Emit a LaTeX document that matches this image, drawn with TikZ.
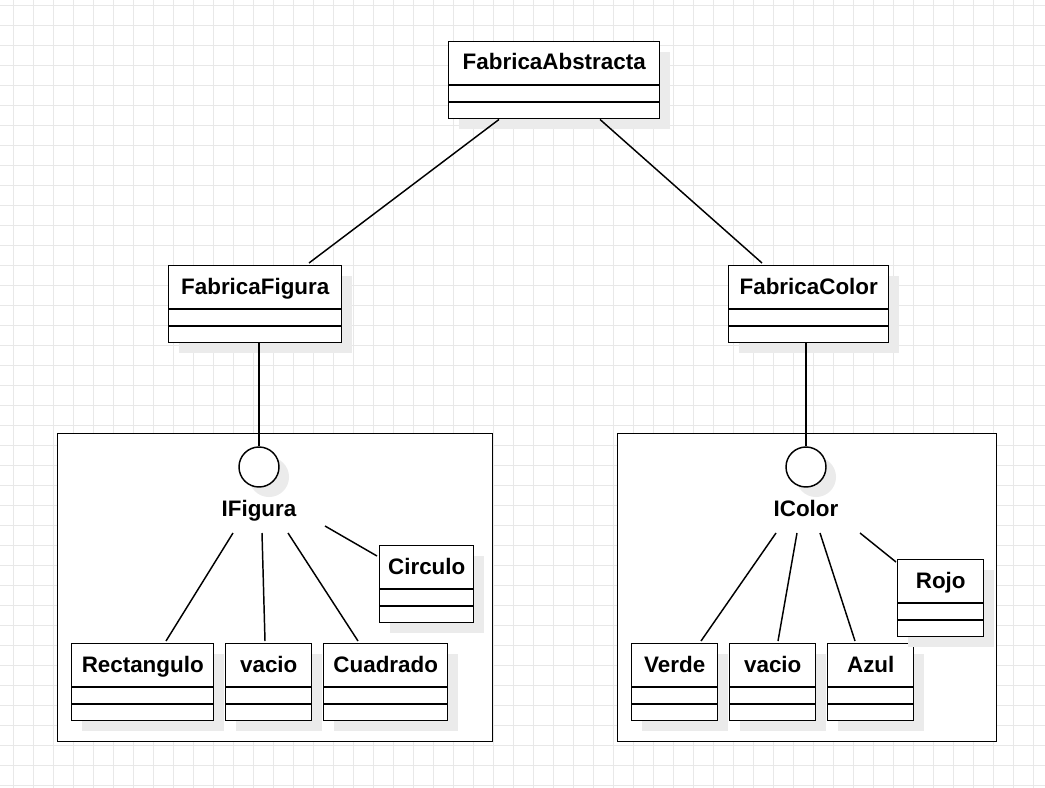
\documentclass[tikz,border=0pt]{standalone}
\usepackage{fontspec}
\setmainfont{Liberation Sans}
\usetikzlibrary{calc,shadows}
\tikzset{
  ln/.style={line width=1.1pt, black},
  gridline/.style={line width=0.5pt, color=black!9},
  shad/.style={drop shadow={shadow xshift=7.5pt, shadow yshift=-7.5pt, fill=black!8, opacity=1}},
  cls/.style={draw, ln, fill=white, rectangle, inner sep=0pt, minimum height=57.75pt, shad},
  pkg/.style={draw, ln, fill=white, rectangle, inner sep=0pt},
  iface/.style={draw, ln, fill=white, circle, inner sep=0pt, minimum size=30pt, shad},
  ttl/.style={font=\fontsize{16.8}{20}\selectfont\bfseries, inner sep=0pt, text=black, anchor=base},
}
\newcommand{\umlcls}[5]{%
  \node[cls, minimum width=#4*0.75pt, anchor=north west] (#1) at (#2,#3) {};
  \draw[ln] ($(#1.north west)+(0,44)$) -- ($(#1.north east)+(0,44)$);
  \draw[ln] ($(#1.north west)+(0,61)$) -- ($(#1.north east)+(0,61)$);
  \node[ttl] (#1-t) at ($(#1.north)+(0,29)$) {#5};
}
\begin{document}
\begin{tikzpicture}[x=0.75pt,y=-0.75pt]
\useasboundingbox (0,0) rectangle (1045,788);
\fill[white] (0,0) rectangle (1045,788);
\foreach \gx in {13,33,...,1033} \draw[gridline] (\gx,0) -- (\gx,788);
\foreach \gy in {5,25,...,785} \draw[gridline] (0,\gy) -- (1045,\gy);

% packages
\node[pkg, minimum width=435*0.75pt, minimum height=308*0.75pt, anchor=north west] (pfig) at (57,433) {};
\node[pkg, minimum width=379*0.75pt, minimum height=308*0.75pt, anchor=north west] (pcol) at (617,433) {};

% classes
\umlcls{fa}{448}{41}{211}{FabricaAbstracta}
\umlcls{ff}{168}{265}{173}{FabricaFigura}
\umlcls{fc}{728}{265}{160}{FabricaColor}
\umlcls{rect}{71}{643}{142}{Rectangulo}
\umlcls{vaa}{225}{643}{86}{vacio}
\umlcls{cuad}{323}{643}{124}{Cuadrado}
\umlcls{circ}{379}{545}{94}{Circulo}
\umlcls{verde}{631}{643}{86}{Verde}
\umlcls{vab}{729}{643}{86}{vacio}
\umlcls{azul}{827}{643}{86}{Azul}
\umlcls{rojo}{897}{559}{86}{Rojo}

% interfaces
\node[iface] (cfig) at (259,467) {};
\node[ttl] (lfig) at (259,516) {IFigura};
\node[iface] (ccol) at (806,467) {};
\node[ttl] (lcol) at (806,516) {IColor};

% connectors
\draw[ln] ($(fa.south west)+(51,0)$) -- ($(ff.north west)+(141,-2)$);
\draw[ln] ($(fa.south west)+(152,0)$) -- ($(fc.north west)+(34,-2)$);
\draw[ln] (cfig.north |- ff.south) -- (cfig.north);
\draw[ln] (ccol.north |- fc.south) -- (ccol.north);

\draw[ln] ($(lfig.base)+(-26,17)$) -- ($(rect.north west)+(95,-2)$);
\draw[ln] ($(lfig.base)+(3,17)$) -- ($(vaa.north west)+(40,-2)$);
\draw[ln] ($(lfig.base)+(29,17)$) -- ($(cuad.north west)+(35,-2)$);
\draw[ln] ($(lfig.base)+(66,10)$) -- ($(circ.north west)+(-2,11)$);

\draw[ln] ($(lcol.base)+(-30,17)$) -- ($(verde.north west)+(70,-2)$);
\draw[ln] ($(lcol.base)+(-9,17)$) -- ($(vab.north west)+(49,-2)$);
\draw[ln] ($(lcol.base)+(14,17)$) -- ($(azul.north west)+(28,-2)$);
\draw[ln] ($(lcol.base)+(54,17)$) -- ($(rojo.north west)+(-1,3)$);
\end{tikzpicture}
\end{document}
